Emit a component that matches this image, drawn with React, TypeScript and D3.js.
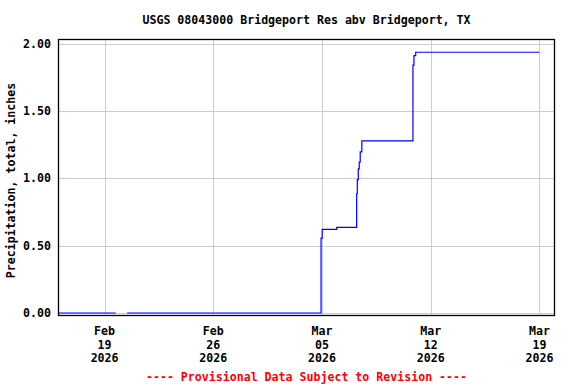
import React from "react";
import * as d3 from "d3";

const title = "USGS 08043000 Bridgeport Res abv Bridgeport, TX";
const yAxisLabel = "Precipitation, total, inches";
const footer = "---- Provisional Data Subject to Revision ----";

// step series (value holds until next timestamp); null = gap in record
const times = [
  "2026-02-16T00:00Z",
  "2026-02-19T17:15Z",
  "2026-02-19T17:30Z",
  "2026-02-20T10:50Z",
  "2026-03-04T22:30Z",
  "2026-03-05T00:15Z",
  "2026-03-05T22:45Z",
  "2026-03-07T05:30Z",
  "2026-03-07T06:30Z",
  "2026-03-07T08:00Z",
  "2026-03-07T09:30Z",
  "2026-03-07T11:00Z",
  "2026-03-07T13:30Z",
  "2026-03-10T20:30Z",
  "2026-03-10T22:00Z",
  "2026-03-11T00:45Z",
  "2026-03-18T23:45Z",
];
const values: (number | null)[] = [
  0, 0, null, 0, 0.555, 0.62, 0.635, 0.885, 0.99, 1.07, 1.12, 1.195, 1.277,
  1.84, 1.91, 1.935, 1.935,
];

const xTickDates = ["2026-02-19", "2026-02-26", "2026-03-05", "2026-03-12", "2026-03-19"];
const yTicks = [0, 0.5, 1.0, 1.5, 2.0];
const xDomain = ["2026-02-16T00:00Z", "2026-03-20T00:00Z"];
const yDomain = [-0.0223, 2.0334];

const FONT = "'DejaVu Sans Mono', monospace";

export default function App() {
  const left = 58, right = 555, top = 39, bottom = 316;
  const x = d3.scaleUtc().domain(xDomain.map((d) => new Date(d))).range([left, right]);
  const y = d3.scaleLinear().domain(yDomain).range([bottom, top]);

  const data = times.map((t, i) => ({ t: new Date(t), v: values[i] }));
  const line = d3
    .line<{ t: Date; v: number | null }>()
    .defined((d) => d.v !== null)
    .x((d) => x(d.t))
    .y((d) => y(d.v as number))
    .curve(d3.curveStepAfter);

  const fmtMon = d3.utcFormat("%b");
  const fmtDay = d3.utcFormat("%d");
  const fmtYear = d3.utcFormat("%Y");
  const xTicks = xTickDates.map((d) => new Date(d + "T00:00Z"));

  return (
    <svg
      width={576}
      height={384}
      style={{ position: "absolute", left: 0, top: 0, background: "#fff" }}
      fontFamily={FONT}
      fontWeight="bold"
      fontSize={11.6}
    >
      <rect x={0} y={0} width={576} height={384} fill="#fff" />
      <text x={(left + right) / 2} y={24} textAnchor="middle" fill="#000">
        {title}
      </text>
      {/* grid */}
      {yTicks.map((t) => (
        <line
          key={"gy" + t}
          x1={left}
          x2={right}
          y1={Math.round(y(t)) + 0.5}
          y2={Math.round(y(t)) + 0.5}
          stroke="#cccccc"
          strokeWidth={1}
        />
      ))}
      {xTicks.map((t, i) => (
        <line
          key={"gx" + i}
          x1={Math.round(x(t)) + 0.5}
          x2={Math.round(x(t)) + 0.5}
          y1={top}
          y2={bottom}
          stroke="#cccccc"
          strokeWidth={1}
        />
      ))}
      <path d={line(data) || ""} fill="none" stroke="#0000ff" strokeWidth={1.2} />
      <rect
        x={left + 0.5}
        y={top + 0.5}
        width={right - left - 1}
        height={bottom - top - 1}
        fill="none"
        stroke="#000"
        strokeWidth={1.3}
      />
      {/* y tick labels */}
      {yTicks.map((t) => (
        <text
          key={"ly" + t}
          x={51}
          y={y(t) + 4}
          textAnchor="end"
          fill="#000"
        >
          {t.toFixed(2)}
        </text>
      ))}
      {/* x tick labels */}
      {xTicks.map((t, i) => (
        <text key={"lx" + i} x={x(t)} textAnchor="middle" fill="#000">
          <tspan x={x(t)} y={335}>{fmtMon(t)}</tspan>
          <tspan x={x(t)} y={348.5}>{fmtDay(t)}</tspan>
          <tspan x={x(t)} y={362}>{fmtYear(t)}</tspan>
        </text>
      ))}
      <text
        transform={`translate(15,${(top + bottom) / 2 + 3}) rotate(-90)`}
        textAnchor="middle"
        fill="#000"
      >
        {yAxisLabel}
      </text>
      <text x={(left + right) / 2} y={381} textAnchor="middle" fill="#ff0000">
        {footer}
      </text>
    </svg>
  );
}
